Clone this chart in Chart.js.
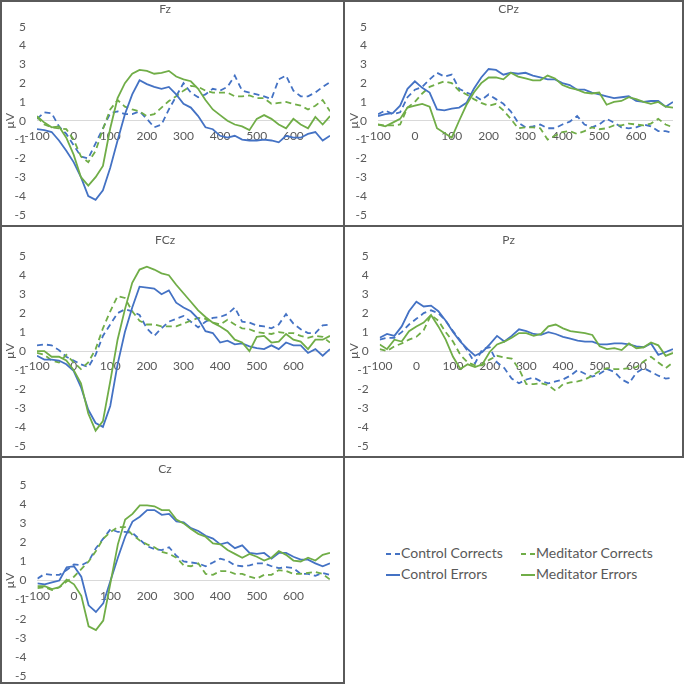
<!DOCTYPE html>
<html>
<head>
<meta charset="utf-8">
<script src="https://cdn.jsdelivr.net/npm/chart.js@4.4.0/dist/chart.umd.min.js"></script>
<style>
body { margin: 0; background: #fff; width: 685px; height: 687px; position: relative; overflow: hidden; font-family: Lato, sans-serif; }
canvas { position: absolute; }
.frame { position: absolute; box-sizing: border-box; border: 2px solid #5a5a5a; pointer-events: none; }
.item { position: absolute; font-size: 14px; color: #595959; white-space: nowrap; line-height: 16px; }
.swatch { display: inline-block; width: 14px; height: 2px; vertical-align: middle; margin-right: 1px; }
</style>
</head>
<body>
<canvas id="fz" width="344" height="233" style="left:0;top:0"></canvas>
<canvas id="cpz" width="339" height="233" style="left:344px;top:0"></canvas>
<canvas id="fcz" width="344" height="238" style="left:0;top:226px"></canvas>
<canvas id="pz" width="339" height="238" style="left:344px;top:226px"></canvas>
<canvas id="cz" width="344" height="237" style="left:0;top:457px"></canvas>

<div class="frame" style="left:0;top:0;width:345px;height:227px"></div>
<div class="frame" style="left:343px;top:0;width:341px;height:227px"></div>
<div class="frame" style="left:0;top:225px;width:345px;height:233px"></div>
<div class="frame" style="left:343px;top:225px;width:341px;height:233px"></div>
<div class="frame" style="left:0;top:456px;width:345px;height:228px"></div>

<div id="legend"></div>

<script>
// time axis (ms), one value every 20 ms
var times = [-100, -80, -60, -40, -20, 0, 20, 40, 60, 80, 100, 120, 140, 160, 180, 200, 220, 240, 260, 280, 300,
    320, 340, 360, 380, 400, 420, 440, 460, 480, 500, 520, 540, 560, 580, 600, 620, 640, 660, 680, 700];

var seriesNames = ['Control Corrects', 'Meditator Corrects', 'Control Errors', 'Meditator Errors'];

// Fz
var fzControlCorrects = [0.1, 0.45, 0.4, -0.3, -0.7, -1.3, -1.9, -2.0, -1.2, -0.4, 0.4, 0.5, 0.35, 0.35, 0.5, 0.1, -0.35, -0.2, 0.6, 1.3, 2.0,
    1.5, 1.25, 1.4, 1.7, 1.6, 1.8, 2.4, 1.6, 1.5, 1.4, 1.3, 1.15, 2.2, 2.4, 1.6, 1.3, 1.3, 1.5, 1.8, 2.05];
var fzMeditatorCorrects = [0.2, -0.2, -0.35, -0.4, -0.45, -1.0, -1.9, -2.2, -1.6, -0.45, 0.6, 1.1, 0.75, 0.6, 0.5, 0.25, 0.35, 0.7, 1.05, 1.3, 1.6,
    1.85, 1.8, 1.6, 1.5, 1.5, 1.5, 1.3, 1.3, 1.35, 1.2, 1.2, 0.9, 0.95, 1.0, 0.9, 0.8, 0.6, 0.8, 1.1, 0.5];
var fzControlErrors = [-0.45, -0.5, -0.6, -1.05, -1.6, -2.2, -3.0, -4.0, -4.2, -3.7, -2.5, -1.05, 0.35, 1.4, 2.15, 1.95, 1.8, 1.7, 1.8, 1.4, 0.9,
    0.7, 0.25, -0.35, -0.45, -0.8, -0.9, -0.8, -1.0, -1.05, -1.05, -1.0, -1.05, -1.15, -0.8, -0.9, -0.9, -0.7, -0.6, -1.05, -0.8];
var fzMeditatorErrors = [0.25, -0.1, -0.35, -0.3, -0.9, -1.8, -3.0, -3.45, -3.0, -2.4, -0.4, 1.2, 2.0, 2.5, 2.7, 2.65, 2.5, 2.55, 2.65, 2.35, 2.2,
    2.1, 1.7, 1.1, 0.6, 0.3, 0.0, -0.2, -0.3, -0.5, 0.1, 0.3, 0.1, -0.2, -0.4, 0.1, -0.2, -0.4, 0.2, -0.2, 0.25];

// CPz
var cpzControlCorrects = [0.35, 0.55, 0.35, 0.45, 1.25, 1.65, 1.8, 2.2, 2.55, 2.35, 2.45, 1.7, 1.5, 1.35, 1.1, 1.4, 1.15, 0.9, 0.5, -0.1, -0.35,
    -0.3, -0.2, -0.4, -0.4, -0.2, -0.05, 0.25, -0.2, -0.35, -0.2, 0.1, -0.1, -0.35, -0.4, -0.35, -0.2, -0.3, -0.55, -0.55, -0.65];
var cpzMeditatorCorrects = [-0.2, -0.25, -0.25, -0.2, 0.7, 1.0, 1.45, 1.8, 1.95, 2.1, 2.0, 1.6, 1.4, 1.15, 0.95, 0.8, 0.9, 0.55, 0.1, -0.4, -0.35,
    -0.35, -0.4, -1.0, -0.8, -0.6, -0.55, -0.7, -0.55, -0.35, -0.45, -0.4, -0.25, -0.25, -0.15, -0.2, -0.25, -0.15, 0.1, -0.2, -0.35];
var cpzControlErrors = [0.25, 0.35, 0.4, 0.8, 1.7, 2.1, 1.75, 1.5, 0.6, 0.55, 0.65, 0.7, 0.95, 1.7, 2.3, 2.75, 2.7, 2.45, 2.55, 2.5, 2.55,
    2.4, 2.3, 2.2, 2.2, 2.0, 1.9, 1.65, 1.65, 1.5, 1.4, 1.3, 1.2, 1.25, 1.3, 1.05, 1.0, 1.05, 1.05, 0.75, 1.0];
var cpzMeditatorErrors = [-0.2, -0.3, -0.1, 0.1, 0.7, 0.8, 0.9, 0.75, -0.4, -0.65, -0.9, 0.0, 0.85, 1.5, 2.0, 2.3, 2.3, 2.2, 2.55, 2.35, 2.25,
    2.15, 2.15, 2.4, 2.25, 1.9, 1.75, 1.65, 1.5, 1.45, 1.5, 0.85, 1.0, 1.05, 1.25, 1.15, 1.0, 0.9, 1.0, 0.75, 0.7];

// FCz
var fczControlCorrects = [0.3, 0.35, 0.3, 0.05, -0.3, -0.5, -0.7, -0.85, -0.2, 0.8, 1.4, 2.0, 2.2, 2.1, 1.9, 1.2, 0.8, 1.2, 1.55, 1.7, 1.85,
    1.55, 1.25, 1.55, 1.75, 1.8, 1.95, 2.3, 1.55, 1.5, 1.35, 1.3, 1.2, 1.4, 1.95, 1.45, 1.15, 0.95, 0.95, 1.35, 1.4];
var fczMeditatorCorrects = [-0.1, -0.2, -0.5, -0.6, -0.2, -0.6, -0.95, -0.6, 0.1, 1.2, 2.1, 2.9, 2.8, 2.1, 1.6, 1.4, 1.4, 1.3, 1.3, 1.3, 1.45,
    1.6, 1.75, 1.7, 1.5, 1.4, 1.65, 1.4, 1.2, 1.15, 1.0, 0.95, 0.9, 1.0, 0.95, 0.95, 0.8, 0.7, 0.8, 0.75, 0.45];
var fczControlErrors = [-0.25, -0.45, -0.45, -0.5, -0.7, -1.05, -1.9, -3.1, -3.8, -4.0, -2.9, -0.7, 1.0, 2.3, 3.4, 3.35, 3.3, 3.0, 3.2, 2.55, 2.3,
    2.1, 1.7, 1.05, 0.95, 0.45, 0.55, 0.35, 0.4, 0.25, 0.15, 0.1, 0.3, 0.1, 0.45, 0.3, 0.3, -0.1, 0.1, -0.25, 0.1];
var fczMeditatorErrors = [0.0, 0.0, -0.3, -0.3, -0.5, -1.0, -1.7, -3.3, -4.2, -3.7, -1.6, 0.6, 2.2, 3.6, 4.3, 4.45, 4.3, 4.1, 4.0, 3.5, 3.05,
    2.6, 2.15, 1.8, 1.5, 1.3, 1.05, 0.6, 0.45, 0.0, 0.75, 0.8, 0.45, 0.5, 0.9, 0.6, 0.5, 0.1, 0.6, 0.6, 0.8];

// Pz
var pzControlCorrects = [0.6, 0.7, 0.7, 1.0, 1.4, 1.7, 2.0, 2.15, 2.0, 1.6, 1.05, 0.55, 0.0, -0.65, 0.1, 0.2, -0.6, -0.9, -1.45, -1.7, -1.5,
    -1.4, -1.6, -1.7, -1.6, -1.5, -1.3, -1.0, -1.2, -1.35, -1.2, -0.95, -1.1, -1.5, -1.7, -1.15, -0.9, -1.1, -1.3, -1.45, -1.4];
var pzMeditatorCorrects = [0.1, 0.0, 0.25, 0.4, 0.6, 0.75, 1.1, 1.9, 1.6, 1.0, 0.5, -0.2, -0.6, -0.75, -0.75, -0.45, -0.25, -0.35, -0.4, -0.95, -1.75,
    -1.75, -1.7, -1.8, -2.1, -1.75, -1.65, -1.6, -1.5, -1.3, -1.05, -0.9, -0.95, -0.95, -0.9, -0.85, -0.55, -0.3, -0.6, -0.9, -0.6];
var pzControlErrors = [0.7, 0.9, 0.8, 1.3, 2.1, 2.6, 2.35, 2.4, 2.1, 1.6, 1.0, 0.5, 0.1, -0.25, -0.05, 0.35, 0.8, 0.5, 0.8, 1.15, 1.05,
    0.9, 0.85, 1.0, 0.9, 0.75, 0.65, 0.55, 0.5, 0.5, 0.35, 0.35, 0.4, 0.4, 0.35, 0.25, 0.2, 0.4, -0.2, -0.05, 0.1];
var pzMeditatorErrors = [0.35, 0.1, 0.6, 0.5, 1.05, 1.3, 1.5, 1.9, 1.3, 0.6, -0.3, -0.95, -0.7, -0.85, -0.7, -0.05, 0.35, 0.5, 0.7, 0.95, 0.95,
    0.8, 0.9, 1.3, 1.4, 1.2, 1.05, 1.0, 0.95, 0.85, 0.25, 0.1, 0.15, 0.05, 0.4, 0.15, 0.2, 0.45, 0.3, -0.25, -0.1];

// Cz
var czControlCorrects = [0.1, 0.35, 0.3, 0.3, 0.55, 0.85, 0.8, 1.0, 1.7, 2.2, 2.7, 2.55, 2.55, 2.5, 2.15, 1.8, 1.65, 1.6, 1.75, 1.3, 1.0,
    0.95, 0.9, 0.75, 0.95, 1.15, 1.05, 0.8, 0.75, 0.8, 0.9, 0.9, 0.75, 0.65, 0.7, 0.65, 0.35, 0.35, 0.25, 0.4, 0.3];
var czMeditatorCorrects = [-0.4, -0.35, -0.5, -0.35, -0.05, 0.2, 0.6, 1.0, 1.55, 2.2, 2.55, 2.8, 2.8, 2.4, 2.1, 1.9, 1.75, 1.5, 1.4, 1.2, 0.8,
    0.75, 0.9, 0.35, 0.3, 0.5, 0.5, 0.35, 0.35, 0.2, 0.1, 0.3, 0.3, 0.55, 0.5, 0.35, 0.35, 0.4, 0.45, 0.35, 0.05];
var czControlErrors = [-0.15, -0.2, -0.1, 0.0, 0.7, 0.75, 0.2, -1.3, -1.65, -1.2, 0.0, 1.2, 2.3, 3.1, 3.35, 3.7, 3.7, 3.45, 3.5, 3.1, 3.05,
    2.75, 2.6, 2.35, 2.2, 1.9, 2.0, 1.7, 1.85, 1.45, 1.4, 1.45, 1.15, 1.45, 1.45, 1.25, 1.1, 1.1, 0.9, 0.75, 0.9];
var czMeditatorErrors = [-0.3, -0.3, -0.45, -0.35, 0.05, -0.2, -0.8, -2.4, -2.6, -2.1, -0.1, 1.9, 3.2, 3.5, 3.95, 3.95, 3.9, 3.7, 3.7, 3.2, 3.0,
    2.7, 2.45, 2.3, 1.95, 1.9, 1.6, 1.4, 1.2, 1.4, 1.25, 1.05, 1.2, 1.55, 1.35, 1.05, 1.0, 1.2, 1.05, 1.35, 1.45];

var blue = '#4472C4';
var green = '#70AD47';
var gray = '#595959';
var font = 'Lato';

// where the plot area of each panel sits inside its canvas
var panels = [
    { id: 'fz', title: 'Fz', left: 37, right: 14, top: 26.7, titleY: 9.3, data: [fzControlCorrects, fzMeditatorCorrects, fzControlErrors, fzMeditatorErrors] },
    { id: 'cpz', title: 'CPz', left: 34, right: 10, top: 26.7, titleY: 9.3, data: [cpzControlCorrects, cpzMeditatorCorrects, cpzControlErrors, cpzMeditatorErrors] },
    { id: 'fcz', title: 'FCz', left: 37, right: 14, top: 30.3, titleY: 13.7, data: [fczControlCorrects, fczMeditatorCorrects, fczControlErrors, fczMeditatorErrors] },
    { id: 'pz', title: 'Pz', left: 35.7, right: 10, top: 30.3, titleY: 13.7, data: [pzControlCorrects, pzMeditatorCorrects, pzControlErrors, pzMeditatorErrors] },
    { id: 'cz', title: 'Cz', left: 37.4, right: 14, top: 28.3, titleY: 12.3, data: [czControlCorrects, czMeditatorCorrects, czControlErrors, czMeditatorErrors] }
];

var colors = [blue, green, blue, green];
var dashes = [[6, 4], [6, 4], [], []];
var orders = [3, 2, 1, 0];

panels.forEach(function (p) {
    var datasets = p.data.map(function (values, i) {
        return {
            label: seriesNames[i],
            data: values,
            borderColor: colors[i],
            borderWidth: 1.8,
            borderDash: dashes[i],
            pointRadius: 0,
            tension: 0,
            fill: false,
            order: orders[i]
        };
    });

    new Chart(document.getElementById(p.id).getContext('2d'), {
        type: 'line',
        data: { labels: times, datasets: datasets },
        options: {
            responsive: false,
            animation: false,
            layout: { padding: { left: 0, right: p.right, top: 0, bottom: 0 } },
            plugins: {
                legend: { display: false },
                tooltip: { enabled: false },
                title: {
                    display: true,
                    text: p.title,
                    color: gray,
                    font: { family: font, size: 12, weight: 'normal' },
                    padding: { top: p.titleY - 7.2, bottom: p.top - p.titleY - 7.2 }
                }
            },
            scales: {
                x: {
                    type: 'linear',
                    min: -100,
                    max: 700,
                    position: { y: 0 },
                    grid: { display: false, drawTicks: false },
                    border: { display: false },
                    ticks: {
                        stepSize: 100,
                        autoSkip: false,
                        maxRotation: 0,
                        padding: 8,
                        color: gray,
                        font: { family: font, size: 12 },
                        callback: function (v) { return v === 700 ? '' : v; }
                    }
                },
                y: {
                    min: -5,
                    max: 5,
                    afterFit: function (scale) { scale.width = p.left; },
                    grid: {
                        drawTicks: false,
                        color: function (ctx) { return ctx.tick && ctx.tick.value === 0 ? '#d9d9d9' : 'rgba(0,0,0,0)'; },
                        lineWidth: 1
                    },
                    border: { display: false },
                    ticks: { stepSize: 1, padding: 11, color: gray, font: { family: font, size: 12 } },
                    title: { display: true, text: 'µV', color: gray, font: { family: font, size: 12 }, padding: { top: 2.8, bottom: 0 } }
                }
            }
        }
    });
});

// legend, two columns
var legendPos = [[386, 545], [521, 545], [386, 566], [521, 566]];
var legend = document.getElementById('legend');
seriesNames.forEach(function (name, i) {
    var item = document.createElement('div');
    item.className = 'item';
    item.style.left = legendPos[i][0] + 'px';
    item.style.top = legendPos[i][1] + 'px';
    var sw = document.createElement('span');
    sw.className = 'swatch';
    if (dashes[i].length) {
        sw.style.background = 'repeating-linear-gradient(to right, ' + colors[i] + ' 0 5px, transparent 5px 9px)';
    } else {
        sw.style.background = colors[i];
    }
    item.appendChild(sw);
    item.appendChild(document.createTextNode(name));
    legend.appendChild(item);
});
</script>
</body>
</html>
